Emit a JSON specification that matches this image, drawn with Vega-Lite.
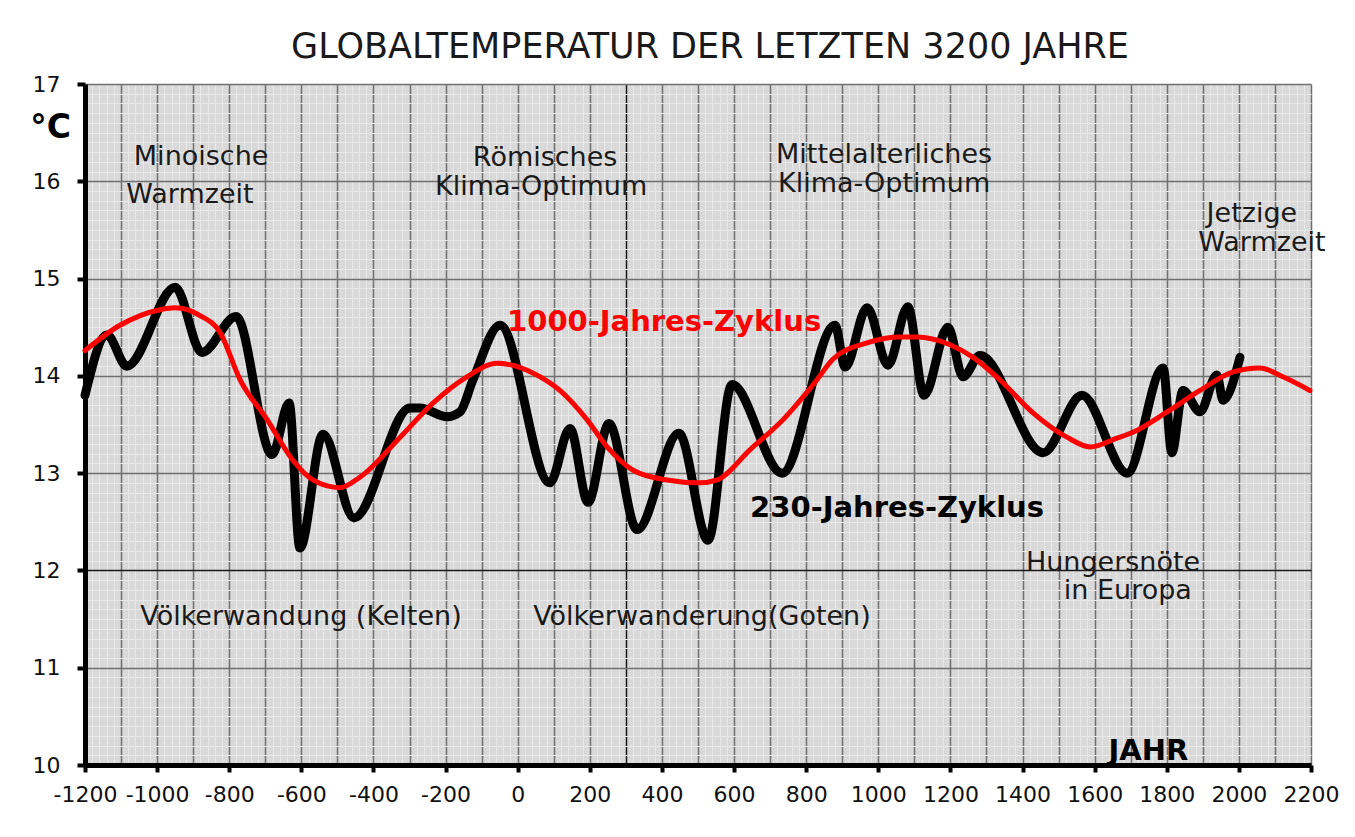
{
  "$schema": "https://vega.github.io/schema/vega-lite/v6.json",
  "autosize": "none",
  "width": 1226,
  "height": 681,
  "padding": {"left": 85, "top": 84, "right": 44, "bottom": 72},
  "background": "white",
  "title": {
    "text": "GLOBALTEMPERATUR DER LETZTEN 3200 JAHRE",
    "fontSize": 35,
    "fontWeight": "normal",
    "font": "DejaVu Sans",
    "color": "#1a1a1a",
    "anchor": "middle",
    "offset": 8,
    "dx": 12
  },
  "config": {
    "font": "DejaVu Sans",
    "view": {"fill": "#d9d9d9", "stroke": null}
  },
  "datasets": {
    "black": [
      {"year": -1200, "temp": 13.80},
      {"year": -1139, "temp": 14.42},
      {"year": -1084, "temp": 14.10},
      {"year": -950, "temp": 14.91},
      {"year": -876, "temp": 14.24},
      {"year": -781, "temp": 14.61},
      {"year": -681, "temp": 13.19},
      {"year": -634, "temp": 13.72},
      {"year": -604, "temp": 12.23},
      {"year": -540, "temp": 13.40},
      {"year": -454, "temp": 12.54},
      {"year": -299, "temp": 13.67},
      {"year": -271, "temp": 13.67},
      {"year": -196, "temp": 13.58},
      {"year": -160, "temp": 13.63},
      {"year": -124, "temp": 13.96},
      {"year": -49, "temp": 14.52},
      {"year": 89, "temp": 12.90},
      {"year": 145, "temp": 13.46},
      {"year": 195, "temp": 12.70},
      {"year": 253, "temp": 13.51},
      {"year": 331, "temp": 12.42},
      {"year": 447, "temp": 13.41},
      {"year": 528, "temp": 12.31},
      {"year": 594, "temp": 13.91},
      {"year": 733, "temp": 13.00},
      {"year": 880, "temp": 14.52},
      {"year": 908, "temp": 14.09},
      {"year": 969, "temp": 14.70},
      {"year": 1027, "temp": 14.11},
      {"year": 1082, "temp": 14.71},
      {"year": 1127, "temp": 13.80},
      {"year": 1193, "temp": 14.50},
      {"year": 1235, "temp": 13.99},
      {"year": 1282, "temp": 14.21},
      {"year": 1457, "temp": 13.21},
      {"year": 1565, "temp": 13.80},
      {"year": 1690, "temp": 13.00},
      {"year": 1790, "temp": 14.08},
      {"year": 1814, "temp": 13.21},
      {"year": 1845, "temp": 13.85},
      {"year": 1892, "temp": 13.63},
      {"year": 1939, "temp": 14.01},
      {"year": 1956, "temp": 13.75},
      {"year": 2003, "temp": 14.19}
    ],
    "red": [
      {"year": -1200, "temp": 14.26},
      {"year": -1103, "temp": 14.52},
      {"year": -992, "temp": 14.68},
      {"year": -950, "temp": 14.70},
      {"year": -881, "temp": 14.62},
      {"year": -826, "temp": 14.45},
      {"year": -770, "temp": 13.96},
      {"year": -695, "temp": 13.55},
      {"year": -623, "temp": 13.13},
      {"year": -568, "temp": 12.93},
      {"year": -493, "temp": 12.85},
      {"year": -437, "temp": 12.96},
      {"year": -326, "temp": 13.37},
      {"year": -235, "temp": 13.72},
      {"year": -141, "temp": 13.99},
      {"year": -57, "temp": 14.13},
      {"year": 42, "temp": 14.03},
      {"year": 117, "temp": 13.85},
      {"year": 192, "temp": 13.55},
      {"year": 248, "temp": 13.27},
      {"year": 320, "temp": 13.03},
      {"year": 414, "temp": 12.93},
      {"year": 505, "temp": 12.90},
      {"year": 553, "temp": 12.93},
      {"year": 644, "temp": 13.24},
      {"year": 736, "temp": 13.55},
      {"year": 830, "temp": 13.96},
      {"year": 874, "temp": 14.17},
      {"year": 969, "temp": 14.34},
      {"year": 1060, "temp": 14.40},
      {"year": 1107, "temp": 14.40},
      {"year": 1199, "temp": 14.32},
      {"year": 1263, "temp": 14.19},
      {"year": 1337, "temp": 13.96},
      {"year": 1429, "temp": 13.62},
      {"year": 1523, "temp": 13.37},
      {"year": 1587, "temp": 13.27},
      {"year": 1662, "temp": 13.36},
      {"year": 1706, "temp": 13.42},
      {"year": 1801, "temp": 13.63},
      {"year": 1892, "temp": 13.85},
      {"year": 1984, "temp": 14.04},
      {"year": 2058, "temp": 14.08},
      {"year": 2122, "temp": 13.99},
      {"year": 2197, "temp": 13.85}
    ],
    "labels": [
      {"year": -878, "temp": 16.25, "text": "Minoische", "kind": "note"},
      {"year": -909, "temp": 15.86, "text": "Warmzeit", "kind": "note"},
      {"year": 76, "temp": 16.24, "text": "Römisches", "kind": "note"},
      {"year": 65, "temp": 15.94, "text": "Klima-Optimum", "kind": "note"},
      {"year": 1016, "temp": 16.27, "text": "Mittelalterliches", "kind": "note"},
      {"year": 1016, "temp": 15.97, "text": "Klima-Optimum", "kind": "note"},
      {"year": 2036, "temp": 15.66, "text": "Jetzige", "kind": "note"},
      {"year": 2064, "temp": 15.37, "text": "Warmzeit", "kind": "note"},
      {"year": 1651, "temp": 12.08, "text": "Hungersnöte", "kind": "note"},
      {"year": 1692, "temp": 11.79, "text": "in Europa", "kind": "note"},
      {"year": -601, "temp": 11.52, "text": "Völkerwandung (Kelten)", "kind": "note"},
      {"year": 511, "temp": 11.52, "text": "Völkerwanderung(Goten)", "kind": "note"},
      {"year": 406, "temp": 14.55, "text": "1000-Jahres-Zyklus", "kind": "red"},
      {"year": 1052, "temp": 12.64, "text": "230-Jahres-Zyklus", "kind": "black"}
    ]
  },
  "encoding": {
    "x": {
      "field": "year",
      "type": "quantitative",
      "scale": {"domain": [-1200, 2200], "nice": false, "zero": false},
      "axis": {
        "tickCount": 170,
        "grid": true,
        "gridColor": {
          "condition": [
            {"test": "datum.value === 300", "value": "#1a1a1a"},
            {"test": "datum.value % 100 === 0", "value": "#707070"}
          ],
          "value": "#e8e8e8"
        },
        "gridWidth": {"condition": {"test": "datum.value % 100 === 0", "value": 1.5}, "value": 1},
        "labelExpr": "datum.value % 200 === 0 ? '' + datum.value : ''",
        "labelOverlap": false,
        "labelFlush": false,
        "labelBound": false,
        "labelFontSize": 22,
        "labelColor": "#111111",
        "labelPadding": 12,
        "ticks": true,
        "tickSize": 7,
        "tickWidth": 4,
        "tickColor": "#000000",
        "tickOpacity": {"condition": {"test": "datum.value % 200 === 0", "value": 1}, "value": 0},
        "domain": true,
        "domainColor": "#000000",
        "domainWidth": 5,
        "title": "JAHR",
        "titleFontSize": 29,
        "titleFontWeight": "bold",
        "titleColor": "#000000",
        "titleX": 1063,
        "titleY": -15,
        "titleAlign": "center",
        "titleBaseline": "middle",
        "titleAnchor": null
      }
    },
    "y": {
      "field": "temp",
      "type": "quantitative",
      "scale": {"domain": [10, 17], "nice": false, "zero": false},
      "axis": {
        "tickCount": 70,
        "grid": true,
        "gridColor": {
          "condition": [
            {"test": "abs(datum.value - 12) < 0.001", "value": "#1a1a1a"},
            {"test": "abs(datum.value - round(datum.value)) < 0.001", "value": "#707070"}
          ],
          "value": "#e8e8e8"
        },
        "gridWidth": {"condition": {"test": "abs(datum.value - round(datum.value)) < 0.001", "value": 1.5}, "value": 1},
        "labelExpr": "abs(datum.value - round(datum.value)) < 0.001 ? '' + round(datum.value) : ''",
        "labelOverlap": false,
        "labelFlush": false,
        "labelBound": false,
        "labelFontSize": 22,
        "labelColor": "#111111",
        "labelPadding": 17,
        "ticks": true,
        "tickSize": 8,
        "tickWidth": 4,
        "tickColor": "#000000",
        "tickOpacity": {"condition": {"test": "abs(datum.value - round(datum.value)) < 0.001", "value": 1}, "value": 0},
        "domain": true,
        "domainColor": "#000000",
        "domainWidth": 5,
        "title": "°C",
        "titleAngle": 0,
        "titleFontSize": 33,
        "titleFontWeight": "bold",
        "titleColor": "#000000",
        "titleX": -35,
        "titleY": 43,
        "titleAlign": "center",
        "titleBaseline": "middle",
        "titleAnchor": null
      }
    }
  },
  "layer": [
    {
      "data": {"name": "black"},
      "mark": {"type": "line", "color": "#000000", "strokeWidth": 9, "interpolate": "monotone", "strokeCap": "round", "strokeJoin": "round"}
    },
    {
      "data": {"name": "red"},
      "mark": {"type": "line", "color": "#ff0000", "strokeWidth": 5, "interpolate": "monotone", "strokeCap": "round"}
    },
    {
      "data": {"name": "labels"},
      "transform": [{"filter": "datum.kind === 'note'"}],
      "mark": {"type": "text", "fontSize": 27, "color": "#1a1a1a", "align": "center", "baseline": "middle"},
      "encoding": {"text": {"field": "text"}}
    },
    {
      "data": {"name": "labels"},
      "transform": [{"filter": "datum.kind === 'red'"}],
      "mark": {"type": "text", "fontSize": 29, "fontWeight": "bold", "color": "#ff0000", "align": "center", "baseline": "middle"},
      "encoding": {"text": {"field": "text"}}
    },
    {
      "data": {"name": "labels"},
      "transform": [{"filter": "datum.kind === 'black'"}],
      "mark": {"type": "text", "fontSize": 29, "fontWeight": "bold", "color": "#000000", "align": "center", "baseline": "middle"},
      "encoding": {"text": {"field": "text"}}
    }
  ]
}
